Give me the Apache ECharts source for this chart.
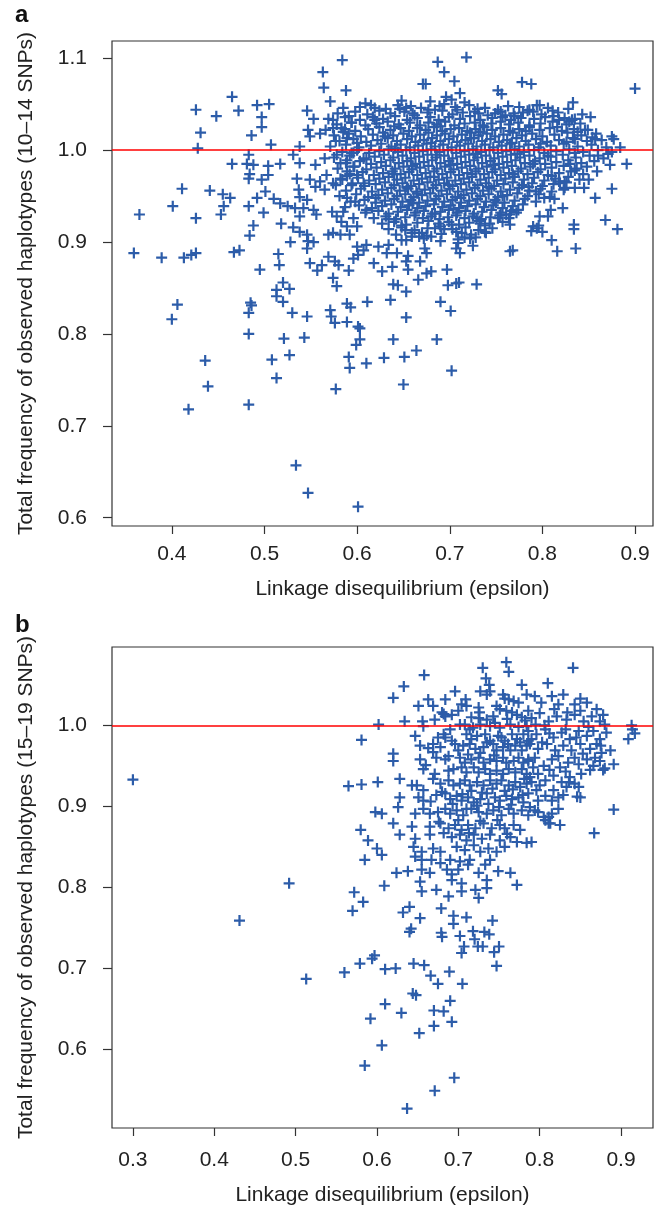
<!DOCTYPE html>
<html><head><meta charset="utf-8">
<style>html,body{margin:0;padding:0;background:#fff}#c{width:662px;height:1207px}</style>
<script src="https://cdn.jsdelivr.net/npm/echarts@6/dist/echarts.min.js"></script>
</head><body><div id="c"></div>
<script>
// ---------- tick labels ----------
const xTicksA = [0.4, 0.5, 0.6, 0.7, 0.8, 0.9];
const yTicksA = [0.6, 0.7, 0.8, 0.9, 1.0, 1.1];
const xTicksB = [0.3, 0.4, 0.5, 0.6, 0.7, 0.8, 0.9];
const yTicksB = [0.6, 0.7, 0.8, 0.9, 1.0];
const refLine = 1.0;
const xTitle = 'Linkage disequilibrium (epsilon)';
const yTitleA = 'Total frequency of observed haplotypes (10\u201314 SNPs)';
const yTitleB = 'Total frequency of observed haplotypes (15\u201319 SNPs)';

// ---------- panel a: scattered points ----------
const aSparse = [
[0.426,1.044],[0.428,1.002],[0.359,0.888],[0.365,0.930],[0.389,0.883],[0.401,0.939],[0.411,0.958],[0.413,0.883],[0.421,0.886],[0.426,0.888],[0.426,0.926],[0.431,1.019],
[0.584,1.098],[0.563,1.085],[0.564,1.068],[0.588,1.065],[0.465,1.058],[0.571,1.053],[0.585,1.046],[0.472,1.043],[0.492,1.049],[0.505,1.050],[0.448,1.037],[0.497,1.036],[0.546,1.043],[0.553,1.034],[0.574,1.033],[0.497,1.025],[0.486,1.016],[0.547,1.022],[0.560,1.018],[0.574,1.024],[0.587,1.023],[0.549,1.015],[0.577,1.010],[0.507,1.006],[0.538,1.004],[0.589,1.013],[0.594,1.030],[0.591,1.037],
[0.465,0.985],[0.483,0.995],[0.481,0.985],[0.488,0.984],[0.504,0.983],[0.517,0.985],[0.531,0.995],[0.538,0.986],[0.555,0.984],[0.565,0.991],[0.578,0.995],[0.582,0.986],[0.589,0.989],[0.596,0.982],[0.594,0.997],
[0.718,1.101],[0.687,1.096],[0.694,1.085],[0.705,1.075],[0.671,1.072],[0.674,1.072],[0.711,1.062],[0.696,1.058],[0.702,1.055],[0.716,1.052],[0.752,1.065],[0.756,1.061],[0.648,1.054],[0.644,1.049],[0.653,1.046],[0.609,1.051],[0.619,1.046],[0.679,1.053],[0.677,1.044],[0.689,1.048],[0.730,1.045],[0.749,1.040],
[0.778,1.074],[0.788,1.072],[0.900,1.067],[0.833,1.052],[0.811,1.043],[0.794,1.049],[0.824,1.035],[0.832,1.033],[0.770,1.037],[0.779,1.041],[0.790,1.042],[0.846,1.022],[0.854,1.014],[0.835,1.012],[0.875,1.015],[0.877,1.012],[0.884,1.003],[0.875,0.998],[0.860,0.994],[0.873,0.984],[0.891,0.985],
[0.484,0.974],[0.483,0.969],[0.497,0.968],[0.504,0.973],[0.441,0.956],[0.455,0.952],[0.463,0.948],[0.456,0.939],[0.453,0.930],[0.483,0.939],[0.492,0.948],[0.501,0.955],[0.510,0.947],[0.499,0.932],[0.517,0.942],[0.525,0.939],[0.533,0.937],[0.538,0.928],[0.542,0.937],[0.553,0.935],[0.556,0.930],[0.488,0.918],[0.484,0.907],[0.518,0.920],[0.531,0.916],[0.538,0.911],[0.546,0.908],[0.547,0.901],[0.553,0.900],[0.528,0.900],[0.546,0.893],[0.467,0.889],[0.473,0.891],[0.515,0.887],[0.516,0.875],[0.495,0.870],[0.549,0.877],[0.557,0.869],[0.562,0.875],[0.569,0.884],[0.576,0.879],[0.580,0.875],[0.591,0.869],[0.596,0.882],[0.574,0.861],[0.578,0.852],[0.520,0.856],[0.527,0.849],[0.513,0.848],
[0.535,0.969],[0.549,0.968],[0.555,0.960],[0.560,0.966],[0.567,0.973],[0.565,0.957],[0.574,0.964],[0.582,0.969],[0.589,0.977],[0.594,0.962],[0.600,0.973],[0.538,0.949],[0.546,0.946],[0.537,0.957],[0.589,0.948],[0.598,0.944],[0.573,0.933],[0.578,0.928],[0.583,0.922],[0.589,0.917],[0.596,0.926],[0.574,0.910],[0.582,0.908],[0.569,0.908],[0.592,0.908],[0.600,0.917],[0.585,0.933],[0.600,0.895],
[0.765,0.890],[0.725,0.896],[0.709,0.899],[0.711,0.888],[0.707,0.893],[0.675,0.888],[0.673,0.893],[0.643,0.888],[0.655,0.885],[0.653,0.879],[0.668,0.879],[0.618,0.877],[0.627,0.868],[0.638,0.873],[0.655,0.870],[0.666,0.859],[0.675,0.866],[0.680,0.868],[0.697,0.870],[0.698,0.853],[0.707,0.855],[0.710,0.856],[0.729,0.854],[0.639,0.854],[0.644,0.853],[0.653,0.846],[0.601,0.886],[0.607,0.891],[0.610,0.897],[0.623,0.895],[0.634,0.897],[0.632,0.888],[0.670,0.910],[0.659,0.906],[0.652,0.913],[0.680,0.906],[0.684,0.915],[0.713,0.910],[0.722,0.904],[0.738,0.911],[0.733,0.920],[0.752,0.926],[0.761,0.930],[0.765,0.919],[0.702,0.919],[0.648,0.902],
[0.875,0.958],[0.857,0.948],[0.868,0.924],[0.881,0.914],[0.834,0.919],[0.834,0.914],[0.836,0.893],[0.816,0.890],[0.810,0.902],[0.768,0.891],[0.790,0.917],[0.794,0.915],[0.788,0.912],[0.800,0.911],[0.796,0.918],[0.822,0.937],[0.809,0.935],[0.806,0.928],[0.797,0.928],[0.774,0.935],[0.765,0.930],[0.813,0.947],[0.802,0.948],[0.845,0.959],[0.835,0.959],[0.824,0.959],[0.819,0.964],[0.850,0.968],[0.824,0.966],[0.859,0.977],
[0.400,0.816],[0.406,0.832],[0.436,0.771],[0.439,0.743],[0.418,0.718],[0.483,0.823],[0.485,0.834],[0.486,0.831],[0.483,0.800],[0.483,0.723],[0.508,0.772],[0.513,0.752],[0.527,0.777],[0.521,0.795],[0.543,0.796],[0.530,0.823],[0.546,0.819],[0.520,0.835],[0.513,0.841],[0.534,0.657],[0.547,0.627],[0.571,0.826],[0.572,0.819],[0.576,0.812],[0.577,0.740],[0.589,0.833],[0.593,0.829],[0.589,0.813],[0.601,0.808],[0.603,0.806],[0.599,0.788],[0.603,0.794],[0.591,0.775],[0.592,0.763],[0.610,0.768],[0.611,0.835],[0.601,0.612],[0.629,0.774],[0.636,0.837],[0.639,0.794],[0.651,0.775],[0.650,0.745],[0.653,0.818],[0.664,0.782],[0.686,0.794],[0.690,0.835],[0.701,0.825],[0.702,0.760]
];

// ---------- panel a: dense core ----------
const aCore = [
[0.603,1.047],[0.615,1.049],[0.631,1.045],[0.658,1.048],[0.669,1.046],[0.684,1.044],[0.706,1.047],[0.721,1.049],[0.738,1.046],[0.763,1.048],[0.786,1.044],[0.806,1.046],[0.828,1.045],
[0.579,1.040],[0.598,1.042],[0.611,1.039],[0.624,1.043],[0.636,1.040],[0.651,1.042],[0.662,1.038],[0.676,1.041],[0.692,1.043],[0.703,1.039],[0.714,1.041],[0.727,1.042],[0.741,1.038],[0.755,1.042],[0.769,1.040],[0.784,1.043],[0.799,1.039],[0.817,1.041],[0.843,1.039],
[0.569,1.034],[0.587,1.036],[0.603,1.033],[0.617,1.036],[0.628,1.034],[0.641,1.037],[0.654,1.033],[0.665,1.035],[0.679,1.036],[0.688,1.033],[0.699,1.036],[0.711,1.034],[0.722,1.037],[0.733,1.033],[0.746,1.035],[0.757,1.036],[0.766,1.033],[0.777,1.035],[0.791,1.034],[0.803,1.036],[0.818,1.033],[0.835,1.034],[0.852,1.036],
[0.578,1.028],[0.594,1.030],[0.609,1.027],[0.621,1.029],[0.633,1.031],[0.645,1.028],[0.657,1.030],[0.668,1.027],[0.677,1.030],[0.686,1.028],[0.695,1.031],[0.705,1.027],[0.716,1.029],[0.727,1.030],[0.736,1.027],[0.745,1.029],[0.755,1.031],[0.764,1.028],[0.774,1.030],[0.786,1.027],[0.798,1.029],[0.811,1.031],[0.826,1.028],[0.841,1.029],
[0.566,1.022],[0.583,1.024],[0.598,1.021],[0.612,1.023],[0.624,1.025],[0.636,1.022],[0.647,1.024],[0.656,1.021],[0.665,1.024],[0.674,1.022],[0.683,1.025],[0.692,1.021],[0.701,1.023],[0.710,1.024],[0.719,1.021],[0.728,1.023],[0.737,1.025],[0.746,1.022],[0.755,1.024],[0.765,1.021],[0.775,1.023],[0.786,1.025],[0.797,1.022],[0.808,1.024],[0.821,1.021],[0.834,1.023],[0.849,1.022],
[0.575,1.016],[0.591,1.018],[0.604,1.015],[0.617,1.017],[0.628,1.019],[0.639,1.016],[0.650,1.018],[0.659,1.015],[0.668,1.017],[0.677,1.019],[0.686,1.016],[0.695,1.018],[0.704,1.015],[0.713,1.017],[0.722,1.019],[0.731,1.016],[0.740,1.018],[0.749,1.015],[0.758,1.017],[0.768,1.019],[0.778,1.016],[0.789,1.018],[0.800,1.015],[0.813,1.017],[0.827,1.019],[0.842,1.016],[0.858,1.018],
[0.581,1.010],[0.596,1.012],[0.610,1.009],[0.622,1.011],[0.633,1.013],[0.643,1.010],[0.654,1.012],[0.663,1.009],[0.672,1.011],[0.681,1.013],[0.690,1.010],[0.699,1.012],[0.708,1.009],[0.717,1.011],[0.726,1.013],[0.735,1.010],[0.744,1.012],[0.753,1.009],[0.762,1.011],[0.772,1.013],[0.782,1.010],[0.793,1.012],[0.805,1.009],[0.818,1.011],[0.833,1.013],[0.848,1.010],[0.864,1.011],
[0.571,1.004],[0.588,1.006],[0.602,1.003],[0.615,1.005],[0.626,1.007],[0.637,1.004],[0.647,1.006],[0.657,1.003],[0.666,1.005],[0.675,1.007],[0.684,1.004],[0.693,1.006],[0.702,1.003],[0.711,1.005],[0.720,1.007],[0.729,1.004],[0.738,1.006],[0.747,1.003],[0.756,1.005],[0.765,1.007],[0.775,1.004],[0.785,1.006],[0.796,1.003],[0.809,1.005],[0.823,1.007],[0.838,1.004],[0.853,1.006],[0.869,1.003],
[0.584,0.998],[0.600,1.000],[0.613,0.997],[0.624,0.999],[0.634,1.001],[0.644,0.998],[0.653,1.000],[0.662,0.997],[0.671,0.999],[0.680,1.001],[0.689,0.998],[0.698,1.000],[0.707,0.997],[0.716,0.999],[0.725,1.001],[0.734,0.998],[0.743,1.000],[0.752,0.997],[0.761,0.999],[0.770,1.001],[0.780,0.998],[0.791,1.000],[0.802,0.997],[0.815,0.999],[0.829,1.001],[0.844,0.998],[0.860,1.000],
[0.575,0.992],[0.592,0.994],[0.607,0.991],[0.619,0.993],[0.629,0.995],[0.639,0.992],[0.649,0.994],[0.658,0.991],[0.667,0.993],[0.676,0.995],[0.685,0.992],[0.694,0.994],[0.703,0.991],[0.712,0.993],[0.721,0.995],[0.730,0.992],[0.739,0.994],[0.748,0.991],[0.757,0.993],[0.766,0.995],[0.776,0.992],[0.786,0.994],[0.797,0.991],[0.809,0.993],[0.822,0.995],[0.836,0.992],[0.851,0.994],[0.866,0.991],
[0.588,0.986],[0.603,0.988],[0.615,0.985],[0.626,0.987],[0.636,0.989],[0.645,0.986],[0.654,0.988],[0.663,0.985],[0.672,0.987],[0.681,0.989],[0.690,0.986],[0.699,0.988],[0.708,0.985],[0.717,0.987],[0.726,0.989],[0.735,0.986],[0.744,0.988],[0.753,0.985],[0.762,0.987],[0.771,0.989],[0.781,0.986],[0.792,0.988],[0.803,0.985],[0.815,0.987],[0.828,0.989],[0.842,0.986],[0.856,0.988],
[0.579,0.980],[0.597,0.982],[0.610,0.979],[0.621,0.981],[0.631,0.983],[0.641,0.980],[0.650,0.982],[0.659,0.979],[0.668,0.981],[0.677,0.983],[0.686,0.980],[0.695,0.982],[0.704,0.979],[0.713,0.981],[0.722,0.983],[0.731,0.980],[0.740,0.982],[0.749,0.979],[0.758,0.981],[0.767,0.983],[0.777,0.980],[0.787,0.982],[0.798,0.979],[0.810,0.981],[0.823,0.983],[0.837,0.980],[0.848,0.982],
[0.592,0.974],[0.606,0.976],[0.618,0.973],[0.628,0.975],[0.638,0.977],[0.647,0.974],[0.656,0.976],[0.665,0.973],[0.674,0.975],[0.683,0.977],[0.692,0.974],[0.701,0.976],[0.710,0.973],[0.719,0.975],[0.728,0.977],[0.737,0.974],[0.746,0.976],[0.755,0.973],[0.764,0.975],[0.774,0.977],[0.784,0.974],[0.795,0.976],[0.806,0.973],[0.818,0.975],[0.831,0.977],[0.844,0.974],
[0.584,0.968],[0.601,0.970],[0.613,0.967],[0.624,0.969],[0.634,0.971],[0.643,0.968],[0.652,0.970],[0.661,0.967],[0.670,0.969],[0.679,0.971],[0.688,0.968],[0.697,0.970],[0.706,0.967],[0.715,0.969],[0.724,0.971],[0.733,0.968],[0.742,0.970],[0.751,0.967],[0.760,0.969],[0.770,0.971],[0.780,0.968],[0.791,0.970],[0.802,0.967],[0.814,0.969],[0.828,0.971],[0.840,0.968],
[0.577,0.962],[0.595,0.964],[0.608,0.961],[0.620,0.963],[0.630,0.965],[0.640,0.962],[0.649,0.964],[0.658,0.961],[0.667,0.963],[0.676,0.965],[0.685,0.962],[0.694,0.964],[0.703,0.961],[0.712,0.963],[0.721,0.965],[0.730,0.962],[0.739,0.964],[0.748,0.961],[0.758,0.963],[0.768,0.965],[0.778,0.962],[0.789,0.964],[0.800,0.961],[0.812,0.963],[0.826,0.965],
[0.588,0.956],[0.604,0.958],[0.616,0.955],[0.627,0.957],[0.637,0.959],[0.646,0.956],[0.655,0.958],[0.664,0.955],[0.673,0.957],[0.682,0.959],[0.691,0.956],[0.700,0.958],[0.709,0.955],[0.718,0.957],[0.727,0.959],[0.736,0.956],[0.745,0.958],[0.755,0.955],[0.765,0.957],[0.775,0.959],[0.786,0.956],[0.798,0.958],[0.810,0.955],[0.823,0.957],
[0.581,0.950],[0.599,0.952],[0.612,0.949],[0.623,0.951],[0.633,0.953],[0.643,0.950],[0.652,0.952],[0.661,0.949],[0.670,0.951],[0.679,0.953],[0.688,0.950],[0.697,0.952],[0.706,0.949],[0.715,0.951],[0.724,0.953],[0.733,0.950],[0.742,0.952],[0.752,0.949],[0.762,0.951],[0.773,0.953],[0.784,0.950],[0.796,0.952],[0.808,0.949],
[0.593,0.944],[0.608,0.946],[0.620,0.943],[0.630,0.945],[0.640,0.947],[0.649,0.944],[0.658,0.946],[0.667,0.943],[0.676,0.945],[0.685,0.947],[0.694,0.944],[0.703,0.946],[0.712,0.943],[0.721,0.945],[0.730,0.947],[0.739,0.944],[0.749,0.946],[0.759,0.943],[0.770,0.945],[0.781,0.947],[0.793,0.944],
[0.587,0.938],[0.602,0.940],[0.616,0.937],[0.627,0.939],[0.637,0.941],[0.647,0.938],[0.656,0.940],[0.665,0.937],[0.674,0.939],[0.683,0.941],[0.692,0.938],[0.701,0.940],[0.710,0.937],[0.719,0.939],[0.728,0.941],[0.737,0.938],[0.747,0.940],[0.757,0.937],[0.768,0.939],[0.779,0.941],
[0.609,0.932],[0.623,0.934],[0.634,0.931],[0.644,0.933],[0.654,0.935],[0.663,0.932],[0.672,0.934],[0.681,0.931],[0.690,0.933],[0.699,0.935],[0.708,0.932],[0.717,0.934],[0.726,0.931],[0.735,0.933],[0.745,0.935],[0.755,0.932],[0.766,0.934],
[0.618,0.926],[0.631,0.928],[0.642,0.925],[0.652,0.927],[0.662,0.929],[0.671,0.926],[0.680,0.928],[0.689,0.925],[0.698,0.927],[0.707,0.929],[0.716,0.926],[0.725,0.928],[0.734,0.925],[0.744,0.927],[0.754,0.929],[0.764,0.926],
[0.627,0.920],[0.640,0.922],[0.653,0.919],[0.665,0.921],[0.677,0.923],[0.688,0.920],[0.699,0.922],[0.710,0.919],[0.721,0.921],[0.732,0.923],[0.743,0.920],[0.757,0.922],
[0.634,0.914],[0.648,0.916],[0.662,0.913],[0.676,0.915],[0.690,0.917],[0.703,0.914],[0.717,0.916],[0.731,0.913],[0.746,0.915],
[0.642,0.908],[0.659,0.910],[0.675,0.907],[0.691,0.909],[0.707,0.911],[0.723,0.908],[0.739,0.910],
[0.653,0.902],[0.672,0.904],[0.690,0.901],[0.709,0.903],[0.728,0.905]
];
const aFill = [
[0.646,1.045],[0.694,1.050],[0.752,1.044],[0.775,1.047],[0.797,1.049],[0.619,1.033],[0.660,1.040],[0.708,1.044],[0.731,1.040],[0.760,1.038],[0.812,1.037],[0.829,1.031],[0.585,1.020],[0.640,1.026],[0.690,1.026],[0.733,1.020],[0.782,1.021],[0.816,1.025],[0.838,1.020],[0.600,1.008],[0.630,1.015],[0.680,1.008],[0.723,1.013],[0.767,1.008],[0.798,1.007],[0.826,1.009],[0.857,1.012],[0.596,0.997],[0.641,1.002],[0.686,0.995],[0.728,0.996],[0.773,0.996],[0.806,0.994],[0.835,0.997],[0.871,0.996],[0.610,0.990],[0.660,0.983],[0.701,0.984],[0.747,0.984],[0.790,0.985],[0.830,0.985],[0.589,0.972],[0.640,0.974],[0.683,0.971],[0.724,0.974],[0.768,0.974],[0.810,0.972],[0.835,0.978],[0.607,0.964],[0.654,0.960],[0.699,0.962],[0.742,0.960],[0.785,0.960],[0.818,0.966],[0.620,0.948],[0.665,0.953],[0.712,0.948],[0.757,0.950],[0.793,0.955],[0.610,0.935],[0.660,0.942],[0.704,0.936],[0.750,0.943],[0.634,0.925],[0.684,0.931],[0.729,0.926],[0.772,0.932],[0.648,0.918],[0.694,0.914],[0.738,0.918],[0.667,0.906],[0.716,0.905]
];

// ---------- panel b ----------
const bSparse = [
[0.300,0.933],[0.492,0.805],[0.581,0.982],[0.602,1.001],[0.565,0.925],[0.581,0.927],[0.601,0.930],[0.580,0.871],[0.589,0.858],[0.598,0.893],[0.606,0.891],[0.600,0.848],[0.606,0.840],[0.585,0.834],[0.609,0.802],[0.572,0.794],[0.583,0.782],
[0.431,0.759],[0.513,0.687],[0.560,0.695],[0.570,0.771],[0.579,0.706],[0.594,0.712],[0.597,0.716],[0.585,0.580],[0.592,0.638],[0.606,0.605],[0.610,0.656],[0.610,0.699],[0.623,0.700],[0.630,0.645],[0.632,0.769],[0.640,0.776],[0.640,0.745],[0.642,0.749],[0.637,0.527],[0.644,0.669],[0.648,0.667],[0.645,0.706],[0.658,0.704],[0.653,0.762],[0.652,0.620],[0.666,0.691],[0.670,0.648],[0.670,0.629],[0.671,0.549],[0.675,0.681],[0.679,0.774],[0.679,0.744],[0.680,0.739],[0.682,0.647],[0.689,0.696],[0.690,0.660],[0.692,0.634],[0.694,0.765],[0.694,0.755],[0.695,0.565],[0.702,0.740],[0.704,0.719],[0.705,0.681],[0.707,0.727],[0.710,0.763],[0.718,0.746],[0.720,0.736],[0.724,0.727],[0.730,0.727],[0.732,0.745],[0.738,0.742],[0.742,0.759],[0.744,0.720],[0.747,0.703],[0.750,0.727]
];
const bMain = [
[0.759,1.078],[0.762,1.066],[0.730,1.071],[0.734,1.058],[0.738,1.050],[0.658,1.062],[0.633,1.048],[0.620,1.034],[0.696,1.042],[0.709,1.032],[0.727,1.042],[0.735,1.038],[0.739,1.042],[0.755,1.038],[0.757,1.033],[0.762,1.032],[0.768,1.030],[0.774,1.028],[0.778,1.050],[0.784,1.038],[0.663,1.032],[0.651,1.024],[0.669,1.024],[0.684,1.032],[0.704,1.026],[0.710,1.024],[0.680,1.016],[0.684,1.011],[0.682,1.014],[0.692,1.013],[0.725,1.022],[0.726,1.016],[0.747,1.024],[0.751,1.020],[0.743,1.011],[0.725,1.009],[0.735,1.007],[0.634,1.005],[0.656,1.005],[0.657,0.999],[0.671,1.007],[0.759,1.018],[0.766,1.016],[0.772,1.013],[0.778,1.010],[0.782,1.006],[0.702,1.001],[0.708,1.001],[0.714,0.995],[0.718,0.997],[0.727,1.001],[0.739,0.999],[0.751,0.997],[0.764,1.001],[0.774,0.998],[0.784,0.999],
[0.647,0.987],[0.684,0.985],[0.682,0.989],[0.710,0.989],[0.716,0.983],[0.723,0.987],[0.733,0.989],[0.739,0.981],[0.749,0.987],[0.757,0.981],[0.766,0.989],[0.772,0.983],[0.780,0.989],[0.786,0.981],
[0.653,0.975],[0.669,0.977],[0.678,0.973],[0.696,0.977],[0.706,0.975],[0.714,0.977],[0.721,0.971],[0.731,0.973],[0.743,0.977],[0.747,0.969],[0.755,0.973],[0.764,0.969],[0.770,0.975],[0.778,0.969],[0.784,0.975],
[0.620,0.965],[0.620,0.956],[0.653,0.958],[0.669,0.967],[0.673,0.960],[0.684,0.958],[0.688,0.962],[0.702,0.960],[0.708,0.954],[0.716,0.958],[0.725,0.960],[0.731,0.954],[0.739,0.958],[0.747,0.956],[0.755,0.960],[0.759,0.954],[0.768,0.956],[0.774,0.960],[0.780,0.954],[0.786,0.958],
[0.657,0.946],[0.688,0.944],[0.694,0.946],[0.704,0.948],[0.710,0.942],[0.719,0.948],[0.725,0.942],[0.733,0.946],[0.739,0.940],[0.747,0.944],[0.755,0.940],[0.762,0.946],[0.770,0.942],[0.778,0.946],[0.784,0.940],
[0.628,0.934],[0.643,0.926],[0.649,0.926],[0.657,0.920],[0.669,0.934],[0.678,0.928],[0.688,0.932],[0.694,0.926],[0.702,0.928],[0.708,0.932],[0.714,0.926],[0.723,0.930],[0.731,0.926],[0.739,0.932],[0.747,0.928],[0.753,0.932],[0.762,0.926],[0.770,0.930],[0.776,0.924],[0.784,0.928],
[0.628,0.911],[0.651,0.911],[0.657,0.907],[0.673,0.914],[0.684,0.916],[0.690,0.909],[0.698,0.913],[0.704,0.907],[0.712,0.911],[0.719,0.905],[0.727,0.909],[0.735,0.916],[0.745,0.911],[0.751,0.907],[0.759,0.913],[0.766,0.909],[0.774,0.911],[0.780,0.905],
[0.626,0.899],[0.657,0.897],[0.647,0.891],[0.665,0.891],[0.675,0.893],[0.684,0.897],[0.690,0.891],[0.698,0.895],[0.706,0.889],[0.716,0.897],[0.725,0.893],[0.735,0.891],[0.743,0.895],[0.753,0.889],[0.762,0.897],[0.768,0.891],[0.778,0.895],[0.786,0.889],
[0.620,0.879],[0.643,0.875],[0.665,0.875],[0.678,0.879],[0.688,0.873],[0.696,0.877],[0.704,0.871],[0.712,0.877],[0.721,0.873],[0.731,0.879],[0.741,0.873],[0.751,0.877],[0.757,0.873],[0.768,0.877],[0.776,0.871],
[0.628,0.865],[0.647,0.860],[0.665,0.865],[0.682,0.867],[0.692,0.862],[0.702,0.865],[0.710,0.858],[0.719,0.865],[0.729,0.860],[0.739,0.865],[0.751,0.858],[0.764,0.862],[0.772,0.856],
[0.645,0.850],[0.655,0.844],[0.669,0.848],[0.678,0.844],[0.698,0.850],[0.708,0.846],[0.719,0.852],[0.727,0.844],[0.737,0.848],[0.747,0.844],[0.757,0.850],
[0.647,0.838],[0.655,0.834],[0.667,0.834],[0.678,0.830],[0.690,0.834],[0.702,0.832],[0.714,0.834],[0.733,0.828],[0.739,0.834],
[0.624,0.818],[0.638,0.820],[0.655,0.822],[0.665,0.818],[0.686,0.822],[0.692,0.816],[0.700,0.822],[0.712,0.828],[0.725,0.818],[0.735,0.809],[0.749,0.820],[0.764,0.818],
[0.653,0.807],[0.692,0.809],[0.704,0.805],[0.772,0.803],
[0.655,0.795],[0.673,0.797],[0.688,0.789],[0.704,0.795],[0.721,0.797],[0.735,0.799],[0.725,0.787],
[0.841,1.071],[0.810,1.052],[0.794,1.036],[0.815,1.036],[0.829,1.038],[0.850,1.033],[0.858,1.028],[0.870,1.020],[0.878,1.013],[0.843,1.026],[0.823,1.026],[0.802,1.028],[0.786,1.018],[0.913,1.000],[0.914,0.995],[0.909,0.983],[0.917,0.990],[0.887,0.969],[0.891,0.952],[0.880,0.947],[0.878,0.945],[0.848,0.952],[0.850,0.911],[0.846,0.912],[0.891,0.896],[0.867,0.867],[0.825,0.877],[0.811,0.887],[0.813,0.879],[0.794,0.895],[0.790,0.856],[0.784,0.855],[0.807,0.883],
[0.790,1.009],[0.800,1.015],[0.811,1.005],[0.821,1.011],[0.833,1.007],[0.843,1.013],[0.854,1.005],[0.864,1.011],[0.874,1.005],[0.880,1.001],
[0.786,0.993],[0.796,0.989],[0.807,0.995],[0.817,0.985],[0.827,0.991],[0.837,0.983],[0.848,0.993],[0.858,0.987],[0.866,0.993],[0.874,0.983],[0.882,0.991],
[0.788,0.977],[0.798,0.971],[0.809,0.977],[0.819,0.969],[0.829,0.975],[0.839,0.969],[0.850,0.977],[0.862,0.971],[0.870,0.977],[0.876,0.966],
[0.786,0.956],[0.794,0.960],[0.805,0.950],[0.815,0.958],[0.825,0.948],[0.835,0.954],[0.843,0.960],[0.858,0.958],[0.866,0.950],[0.874,0.956],
[0.788,0.936],[0.798,0.940],[0.807,0.932],[0.817,0.938],[0.827,0.930],[0.837,0.936],[0.843,0.928],[0.833,0.924],[0.848,0.924],
[0.786,0.916],[0.796,0.920],[0.807,0.913],[0.815,0.907],[0.823,0.911],[0.798,0.907],
[0.788,0.899],[0.798,0.893],[0.805,0.887],[0.815,0.891],[0.823,0.897],[0.811,0.879]
];
const bExtra = [
[0.692,0.981],[0.700,0.969],[0.712,0.964],[0.727,0.966],[0.735,0.979],[0.744,0.963],[0.753,0.985],[0.761,0.977],[0.776,0.979],[0.790,0.983],[0.803,0.979],[0.812,0.990],[0.832,0.995],[0.845,0.985],[0.853,0.965],[0.862,0.945],[0.823,0.962],[0.832,0.943],[0.812,0.945],[0.800,0.926],[0.792,0.948],[0.781,0.934],[0.767,0.921],[0.757,0.919],[0.742,0.922],[0.729,0.917],[0.716,0.919],[0.705,0.915],[0.693,0.903],[0.710,0.897],[0.723,0.901],[0.737,0.903],[0.750,0.899],[0.765,0.902],[0.779,0.914],[0.790,0.930],[0.817,0.920],[0.829,0.914],[0.836,0.930],[0.851,0.940],[0.868,0.960],[0.875,0.975],[0.860,0.998],[0.850,1.018],[0.834,1.016],[0.818,1.020],[0.806,1.000],[0.795,1.001],[0.760,1.008],[0.745,1.003],[0.716,1.010],[0.700,1.018],[0.690,0.995],[0.675,0.985],[0.663,0.972],[0.660,0.951],[0.671,0.940],[0.680,0.918],[0.666,0.906],[0.676,0.881],[0.700,0.883],[0.727,0.882],[0.748,0.883],[0.713,0.867],[0.760,0.866]
];

// ---------- chart ----------
const FONT = "'Liberation Sans', Arial, Helvetica, sans-serif";
const PLUS = 'path://M0,4H10V6H0Z M4,0H6V10H4Z';
const BLUE = '#2c5ca9';
const INK = '#222';

function xAx(gi, min, max, ticks, gap, shift, margin) {
  return {
    type: 'value', gridIndex: gi, min: min, max: max,
    axisLine: { show: false },
    splitLine: { show: false },
    axisTick: { show: true, length: 8, customValues: ticks, lineStyle: { color: '#333', width: 1.2 } },
    axisLabel: { customValues: ticks, formatter: v => v.toFixed(1), fontSize: 21, color: INK, margin: margin, fontFamily: FONT },
    name: xTitle, nameLocation: 'middle', nameGap: gap,
    nameTextStyle: { fontSize: 21, color: INK, fontFamily: FONT, padding: [0, 0, 0, shift] }
  };
}
function yAx(gi, min, max, ticks, title) {
  return {
    type: 'value', gridIndex: gi, min: min, max: max,
    axisLine: { show: false },
    splitLine: { show: false },
    axisTick: { show: true, length: 9, customValues: ticks, lineStyle: { color: '#333', width: 1.2 } },
    axisLabel: { customValues: ticks, formatter: v => v.toFixed(1), fontSize: 21, color: INK, margin: 25, fontFamily: FONT },
    name: title, nameLocation: 'middle', nameGap: 75,
    nameTextStyle: { fontSize: 21, color: INK, fontFamily: FONT }
  };
}
function refSeries(i) {
  return {
    type: 'scatter', xAxisIndex: i, yAxisIndex: i, data: [], z: 10, silent: true,
    markLine: { silent: true, symbol: ['none', 'none'], label: { show: false },
      lineStyle: { color: '#ff0000', width: 1.5, type: 'solid' }, data: [{ yAxis: refLine }], animation: false }
  };
}
function pts(i, data) {
  return { type: 'scatter', xAxisIndex: i, yAxisIndex: i, data: data, symbol: PLUS, symbolSize: 11,
    itemStyle: { color: BLUE, opacity: 1 }, silent: true, z: 2 };
}

const chart = echarts.init(document.getElementById('c'), null, { renderer: 'canvas' });
chart.setOption({
  animation: false,
  backgroundColor: '#fff',
  textStyle: { fontFamily: FONT },
  grid: [
    { left: 112, top: 41, width: 541, height: 485, show: true, borderColor: '#333', borderWidth: 1.2, backgroundColor: 'transparent' },
    { left: 112, top: 647, width: 541, height: 485, show: true, borderColor: '#333', borderWidth: 1.2, backgroundColor: 'transparent' }
  ],
  xAxis: [ xAx(0, 0.3354, 0.9194, xTicksA, 53, 40, 18), xAx(1, 0.2743, 0.9393, xTicksB, 57, 0, 22) ],
  yAxis: [ yAx(0, 0.591, 1.1188, yTicksA, yTitleA), yAx(1, 0.503, 1.0967, yTicksB, yTitleB) ],
  series: [ pts(0, aSparse), pts(0, aCore), pts(0, aFill), refSeries(0), pts(1, bSparse), pts(1, bMain), pts(1, bExtra), refSeries(1) ],
  graphic: [
    { type: 'text', left: 15, top: 3, style: { text: 'a', font: 'bold 24px ' + FONT, fill: '#111' } },
    { type: 'text', left: 15, top: 613, style: { text: 'b', font: 'bold 24px ' + FONT, fill: '#111' } }
  ]
});
</script></body></html>
